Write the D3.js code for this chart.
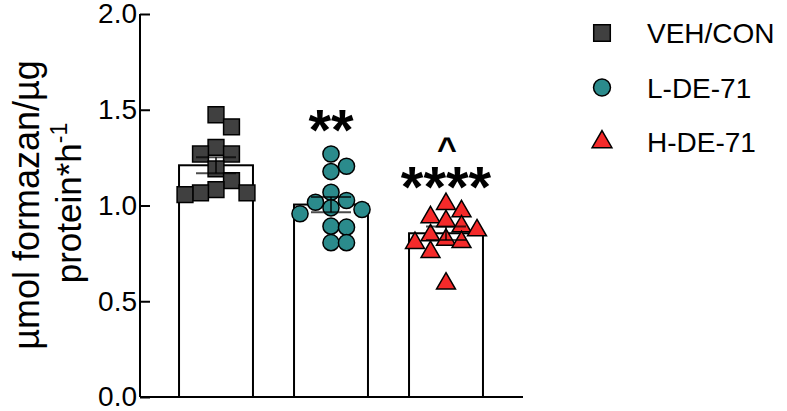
<!DOCTYPE html>
<html>
<head>
<meta charset="utf-8">
<script src="https://cdn.jsdelivr.net/npm/d3@7"></script>
<style>
  body { margin: 0; background: #fff; }
  text { font-family: "Liberation Sans", Arial, sans-serif; }
</style>
</head>
<body>
<svg id="chart" width="787" height="411"></svg>
<script>
// values
const groups = ["VEH/CON", "L-DE-71", "H-DE-71"];
const vehCon = [1.474, 1.411, 1.304, 1.269, 1.269, 1.191, 1.130, 1.083, 1.066, 1.066, 1.057];
const lDE71 = [1.269, 1.205, 1.177, 1.069, 1.026, 1.017, 0.988, 0.979, 0.957, 0.892, 0.887, 0.806, 0.806];
const hDE71 = [1.008, 0.970, 0.939, 0.918, 0.891, 0.870, 0.844, 0.821, 0.809, 0.804, 0.757, 0.592];
const means = [1.21, 1.005, 0.855];
const sems = [0.042, 0.040, 0.035];
const yTicks = [0, 0.5, 1.0, 1.5, 2.0];
const stars = ["", "**", "****"];
const carets = ["", "", "^"];

const series = [vehCon, lDE71, hDE71];
const colors = ["#404040", "#2b8b8c", "#f42a2a"];
const shapes = [d3.symbolSquare, d3.symbolCircle, d3.symbolTriangle];
const sizes = [250, 205, 155];

const svg = d3.select("#chart");

const y = d3.scaleLinear().domain([0, 2]).range([397, 14]);
const x = d3.scaleBand().domain(groups).range([158.5, 503.5])
    .paddingInner(0.357).paddingOuter(0.1785);

// bars
svg.selectAll("rect.bar")
    .data(groups)
    .enter().append("rect")
    .attr("class", "bar")
    .attr("x", d => x(d))
    .attr("y", (d, i) => y(means[i]))
    .attr("width", x.bandwidth())
    .attr("height", (d, i) => y(0) - y(means[i]))
    .attr("fill", "#fff")
    .attr("stroke", "#000")
    .attr("stroke-width", 2);

// spread points sideways in columns so they do not pile up
const colStep = 15.5, minDist = 15;
series.forEach((vals, gi) => {
    const cx = x(groups[gi]) + x.bandwidth() / 2;
    const placed = [];
    vals.forEach(v => {
        const py = y(v);
        const cands = [0, 1, -1, 2, -2, 3, -3];
        let off = 0;
        for (const c of cands) {
            const px = cx + c * colStep;
            if (placed.every(p => Math.hypot(p.x - px, p.y - py) >= minDist)) { off = c; break; }
        }
        placed.push({x: cx + off * colStep, y: py});
    });
    svg.append("g").selectAll("path")
        .data(placed)
        .enter().append("path")
        .attr("d", d3.symbol().type(shapes[gi]).size(sizes[gi]))
        .attr("transform", d => `translate(${d.x},${d.y})`)
        .attr("fill", colors[gi])
        .attr("stroke", "#000")
        .attr("stroke-width", 1.5);
});

// error bars (mean +/- SEM)
const eb = svg.append("g").attr("stroke", "#000").attr("stroke-width", 2).attr("stroke-opacity", 0.7);
groups.forEach((g, i) => {
    const cx = x(g) + x.bandwidth() / 2;
    eb.append("line").attr("x1", cx).attr("x2", cx).attr("y1", y(means[i] + sems[i])).attr("y2", y(means[i] - sems[i]));
    [1, -1].forEach(s => {
        eb.append("line").attr("x1", cx - 20).attr("x2", cx + 20)
            .attr("y1", y(means[i] + s * sems[i])).attr("y2", y(means[i] + s * sems[i]));
    });
});

// axes
const yAxis = svg.append("g").attr("transform", "translate(140,0)")
    .call(d3.axisRight(y).tickValues(yTicks).tickFormat(d3.format(".1f")).tickSize(10));
yAxis.select(".domain").attr("stroke-width", 2).attr("d", "M0,14V397");
yAxis.selectAll(".tick line").attr("stroke-width", 2);
yAxis.selectAll(".tick text").attr("font-size", 28).attr("text-anchor", "end").attr("x", -3).attr("fill", "#000");

svg.append("line").attr("x1", 140).attr("x2", 523).attr("y1", 397).attr("y2", 397)
    .attr("stroke", "#000").attr("stroke-width", 2);

// axis title
const title = svg.append("text").attr("transform", "translate(39,205) rotate(-90)")
    .attr("text-anchor", "middle").attr("font-size", 36);
title.append("tspan").text("µmol formazan/µg");
const t2 = svg.append("text").attr("transform", "translate(81,203) rotate(-90)")
    .attr("text-anchor", "middle").attr("font-size", 35);
t2.append("tspan").text("protein*h");
t2.append("tspan").attr("font-size", 23).attr("dy", -14).text("-1");

// significance marks
svg.selectAll("text.stars")
    .data(groups)
    .enter().append("text")
    .attr("class", "stars")
    .attr("x", d => x(d) + x.bandwidth() / 2)
    .attr("y", (d, i) => i === 2 ? 207 : 150)
    .attr("text-anchor", "middle")
    .attr("font-size", 58).attr("font-weight", "bold")
    .text((d, i) => stars[i]);
svg.selectAll("text.caret")
    .data(groups)
    .enter().append("text")
    .attr("class", "caret")
    .attr("x", d => x(d) + x.bandwidth() / 2 + 1)
    .attr("y", 160)
    .attr("text-anchor", "middle")
    .attr("font-size", 34).attr("font-weight", "bold")
    .text((d, i) => carets[i]);

// legend
const legend = svg.append("g").selectAll("g")
    .data(groups)
    .enter().append("g")
    .attr("transform", (d, i) => `translate(602,${33 + i * 54.5})`);
legend.append("path")
    .attr("d", (d, i) => d3.symbol().type(shapes[i]).size(sizes[i] * 1.1)())
    .attr("fill", (d, i) => colors[i])
    .attr("stroke", "#000").attr("stroke-width", 1.5);
legend.append("text")
    .attr("x", 45).attr("y", 10)
    .attr("font-size", 28)
    .text(d => d);
</script>
</body>
</html>
